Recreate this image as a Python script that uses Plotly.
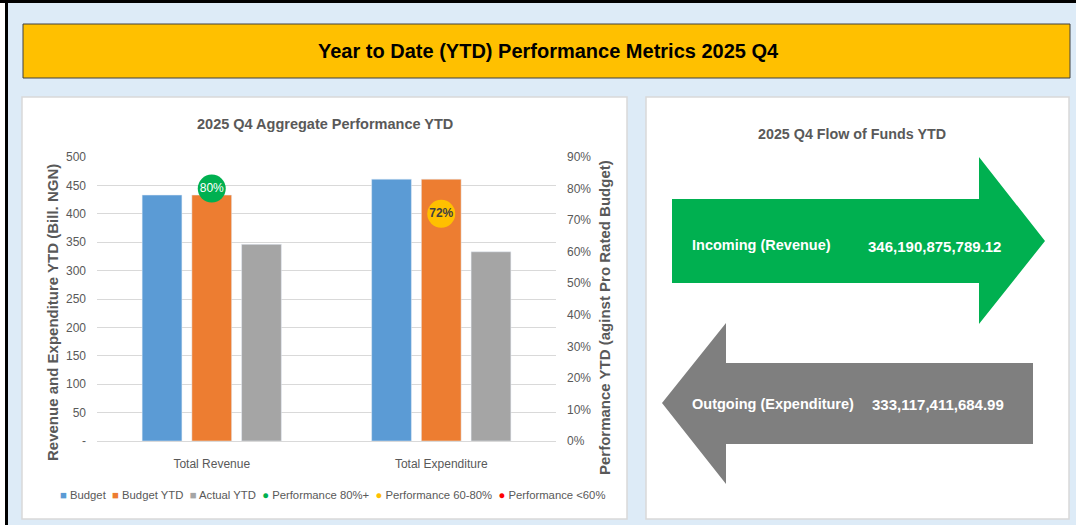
import plotly.graph_objects as go

# ---------------- data ----------------
categories = ["Total Revenue", "Total Expenditure"]
budget = [433, 461]
budget_ytd = [433, 461]
actual_ytd = [346.19, 333.12]
performance = [0.80, 0.72]
perf_labels = ["80%", "72%"]

left_ticks = [0, 50, 100, 150, 200, 250, 300, 350, 400, 450, 500]
left_ticktext = ["-", "50", "100", "150", "200", "250", "300", "350", "400", "450", "500"]
right_ticks = [0, 0.1, 0.2, 0.3, 0.4, 0.5, 0.6, 0.7, 0.8, 0.9]

incoming_label = "Incoming (Revenue)"
incoming_value = "346,190,875,789.12"
outgoing_label = "Outgoing (Expenditure)"
outgoing_value = "333,117,411,684.99"

W, H = 1076, 525


def px(x):
    return x / W


def py(y):
    return 1 - y / H


SANS = "Liberation Sans, Arial, sans-serif"
GREY = "#595959"

fig = go.Figure()

fig.add_trace(go.Bar(x=categories, y=budget, name="Budget", marker_color="#5B9BD5"))
fig.add_trace(go.Bar(x=categories, y=budget_ytd, name="Budget YTD", marker_color="#ED7D31"))
fig.add_trace(go.Bar(x=categories, y=actual_ytd, name="Actual YTD", marker_color="#A5A5A5"))

# performance markers, coloured by band
bands = [
    ("Performance 80%+", lambda p: p >= 0.8, "#00B050", "white"),
    ("Performance 60-80%", lambda p: 0.6 <= p < 0.8, "#FFC000", "#404040"),
    ("Performance <60%", lambda p: p < 0.6, "#FF0000", "white"),
]
for name, cond, col, tcol in bands:
    xs = [c for c, p in zip(categories, performance) if cond(p)]
    ys = [p for p in performance if cond(p)]
    ts = [t if tcol == "white" else f"<b>{t}</b>" for t, p in zip(perf_labels, performance) if cond(p)]
    fig.add_trace(go.Scatter(
        x=xs, y=ys, yaxis="y2", name=name, mode="markers+text",
        text=ts, textposition="middle center",
        textfont=dict(color=tcol, size=12, family=SANS),
        marker=dict(color=col, size=28, line=dict(width=0)),
        cliponaxis=False,
    ))

shapes = []
# top and left black frame
shapes.append(dict(type="rect", xref="paper", yref="paper", x0=px(0), x1=px(W), y0=py(3), y1=py(0),
                   fillcolor="black", line=dict(width=0), layer="below"))
shapes.append(dict(type="rect", xref="paper", yref="paper", x0=px(0), x1=px(5), y0=py(H), y1=py(3),
                   fillcolor="white", line=dict(width=0), layer="below"))
shapes.append(dict(type="rect", xref="paper", yref="paper", x0=px(5), x1=px(8), y0=py(H), y1=py(3),
                   fillcolor="black", line=dict(width=0), layer="below"))
# yellow title box
shapes.append(dict(type="rect", xref="paper", yref="paper", x0=px(23), x1=px(1070), y0=py(78), y1=py(24),
                   fillcolor="#FFC000", line=dict(color="#404040", width=1), layer="below"))
# panels
shapes.append(dict(type="rect", xref="paper", yref="paper", x0=px(22), x1=px(627), y0=py(519), y1=py(97),
                   fillcolor="white", line=dict(color="#D9D9D9", width=1.5), layer="below"))
shapes.append(dict(type="rect", xref="paper", yref="paper", x0=px(646), x1=px(1069), y0=py(519), y1=py(97),
                   fillcolor="white", line=dict(color="#D9D9D9", width=1.5), layer="below"))


def path(points):
    return "M " + " L ".join(f"{px(x):.5f},{py(y):.5f}" for x, y in points) + " Z"


green_arrow = [(672, 199), (979, 199), (979, 157), (1045, 241), (979, 324), (979, 283), (672, 283)]
grey_arrow = [(1033, 363), (726, 363), (726, 323), (662, 403), (726, 484), (726, 444), (1033, 444)]
shapes.append(dict(type="path", xref="paper", yref="paper", path=path(green_arrow),
                   fillcolor="#00B050", line=dict(width=0), layer="below"))
shapes.append(dict(type="path", xref="paper", yref="paper", path=path(grey_arrow),
                   fillcolor="#7F7F7F", line=dict(width=0), layer="below"))

annotations = []


def ann(text, x, y, size, color, family=SANS, xanchor="center", textangle=0, bold=False):
    t = f"<b>{text}</b>" if bold else text
    annotations.append(dict(text=t, x=px(x), y=py(y), xref="paper", yref="paper", showarrow=False,
                            xanchor=xanchor, yanchor="middle", textangle=textangle,
                            font=dict(size=size, color=color, family=family)))


ann("Year to Date (YTD) Performance Metrics 2025 Q4", 548, 51, 20, "black", bold=True)
ann("2025 Q4 Aggregate Performance YTD", 325, 124, 14.5, GREY, bold=True)
ann("2025 Q4 Flow of Funds YTD", 852, 134, 14.3, GREY, bold=True)
ann("Revenue and Expenditure YTD (Bill. NGN)", 52, 313, 15, GREY, textangle=-90, bold=True)
ann("Performance YTD (aginst Pro Rated Budget)", 604, 318, 15, GREY, textangle=-90, bold=True)
ann(incoming_label, 690, 245, 14.5, "white", xanchor="left", bold=True)
ann(incoming_value, 866, 246, 15, "white", xanchor="left", bold=True)
ann(outgoing_label, 690, 404, 14.5, "white", xanchor="left", bold=True)
ann(outgoing_value, 870, 404, 15, "white", xanchor="left", bold=True)

legend_items = [(d.name, d.marker.color, "■" if d.type == "bar" else "●") for d in fig.data]
legend_text = "  ".join(
    f"<span style='color:{c}'>{s}</span> {n.replace('<', '&lt;')}" for n, c, s in legend_items
)
annotations.append(dict(text=legend_text, x=px(58), y=py(495), xref="paper", yref="paper", showarrow=False,
                        xanchor="left", yanchor="middle",
                        font=dict(size=11.3, color=GREY, family=SANS)))

fig.update_layout(
    width=W, height=H,
    margin=dict(l=0, r=0, t=0, b=0, pad=0, autoexpand=False),
    paper_bgcolor="#DDEBF7",
    plot_bgcolor="rgba(0,0,0,0)",
    barmode="group",
    bargap=0.35,
    bargroupgap=0.2,
    showlegend=False,
    shapes=shapes,
    annotations=annotations,
    xaxis=dict(domain=[px(97), px(556)], showgrid=False, showline=True, linecolor="#D9D9D9",
               automargin=False,
               tickfont=dict(size=12, color=GREY, family=SANS), ticks="", ticklabelstandoff=12),
    yaxis=dict(domain=[py(441), py(157)], range=[0, 500], tickvals=left_ticks, ticktext=left_ticktext,
               showgrid=True, gridcolor="#D9D9D9", zeroline=False, showline=False, automargin=False,
               tickfont=dict(size=12, color=GREY, family=SANS), ticklabelstandoff=10),
    yaxis2=dict(overlaying="y", side="right", range=[0, 0.9], tickvals=right_ticks, tickformat=".0%",
                showgrid=False, zeroline=False, showline=False, automargin=False,
                tickfont=dict(size=12, color=GREY, family=SANS), ticklabelstandoff=10),
)

fig.write_html("out.html", config={"displayModeBar": False},
               post_script="document.body.style.margin='0';document.body.style.padding='0';")
